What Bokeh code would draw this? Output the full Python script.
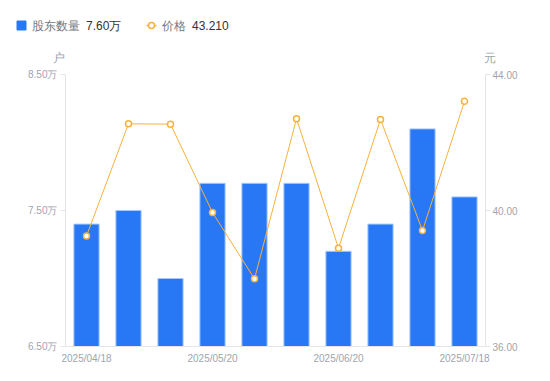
from bokeh.plotting import figure
from bokeh.models import Range1d, LinearAxis, FixedTicker, ColumnDataSource
from bokeh.core.properties import value
from bokeh.embed import file_html
from bokeh.resources import INLINE

# ---- data ----
idx = list(range(10))
holders = [7.40, 7.50, 7.00, 7.70, 7.70, 7.70, 7.20, 7.40, 8.10, 7.60]   # 万户
prices = [39.25, 42.55, 42.54, 39.94, 37.99, 42.70, 38.89, 42.68, 39.41, 43.21]  # 元
x_tick_pos = [0, 3, 6, 9]
x_tick_labels = ["2025/04/18", "2025/05/20", "2025/06/20", "2025/07/18"]
left_ticks = [6.5, 7.5, 8.5]
left_tick_labels = ["6.50万", "7.50万", "8.50万"]
right_ticks = [36, 40, 44]
right_tick_labels = ["36.00", "40.00", "44.00"]
series_names = ["股东数量", "价格"]
units = ["户", "元"]

BLUE = "#2878F5"
BLUE_EDGE = "#A6C8FA"
ORANGE = "#F8B13C"
TICK_COLOR = "#A0A4AE"
AXIS_COLOR = "#E3E5E8"
LEG_COLOR = "#75777D"
FONT = "Liberation Sans"

# ---- legend strip (pixel coordinates) ----
leg = figure(width=550, height=66, output_backend="svg", toolbar_location=None,
             x_range=Range1d(0, 550), y_range=Range1d(66, 0), min_border=0)
leg.axis.visible = False
leg.grid.visible = False
leg.outline_line_color = None
leg.scatter([21], [25], marker="square", size=9, fill_color=BLUE, line_color=BLUE)
leg.line([146, 156], [25, 25], line_color=ORANGE, line_width=1.5)
leg.scatter([151], [25], marker="circle", size=6, fill_color="white", line_color=ORANGE, line_width=1.5)

def ltext(x, y, t, color, align="left"):
    leg.text([x], [y], text=[t], text_font=value(FONT), text_font_size="12px",
             text_color=color, text_baseline="middle", text_align=align)

ltext(31, 25, series_names[0], LEG_COLOR)
ltext(85.5, 25, f"{holders[-1]:.2f}万", "#333333")
ltext(161, 25, series_names[1], LEG_COLOR)
ltext(191.5, 25, f"{prices[-1]:.3f}", "#333333")
ltext(58.5, 57, units[0], TICK_COLOR, "center")
ltext(489.5, 57, units[1], TICK_COLOR, "center")

# ---- main chart ----
p = figure(width=550, height=315, output_backend="svg", toolbar_location=None,
           x_range=Range1d(-0.5, 9.5), y_range=Range1d(6.5, 8.5),
           min_border_left=65, min_border_right=65, min_border_top=8, min_border_bottom=35)
p.extra_y_ranges = {"price": Range1d(36, 44)}
p.grid.visible = False
p.outline_line_color = None

src = ColumnDataSource(dict(x=idx, h=holders, pr=prices))
p.vbar(x="x", top="h", bottom=6.5, width=0.6, source=src,
       fill_color=BLUE, line_color=BLUE_EDGE, line_width=1)
p.line("x", "pr", source=src, y_range_name="price", line_color=ORANGE, line_width=1)
p.scatter("x", "pr", source=src, y_range_name="price", marker="circle", size=6,
          fill_color="white", line_color=ORANGE, line_width=1.5)

def style(ax):
    ax.axis_line_color = AXIS_COLOR
    ax.major_tick_line_color = AXIS_COLOR
    ax.minor_tick_line_color = None
    ax.major_label_text_color = TICK_COLOR
    ax.major_label_text_font = FONT
    ax.major_label_text_font_size = "10px"

xa = p.xaxis[0]
xa.ticker = FixedTicker(ticks=x_tick_pos)
xa.major_label_overrides = {t: l for t, l in zip(x_tick_pos, x_tick_labels)}
style(xa)
xa.major_tick_line_color = None
xa.major_tick_out = 0
xa.major_label_standoff = 6

ya = p.yaxis[0]
ya.ticker = FixedTicker(ticks=left_ticks)
ya.major_label_overrides = {t: l for t, l in zip(left_ticks, left_tick_labels)}
style(ya)
ya.major_tick_out = 5
ya.major_tick_in = 0
ya.major_label_standoff = 3

ra = LinearAxis(y_range_name="price", ticker=FixedTicker(ticks=right_ticks))
ra.major_label_overrides = {t: l for t, l in zip(right_ticks, right_tick_labels)}
style(ra)
ra.major_tick_out = 5
ra.major_tick_in = 0
ra.major_label_standoff = 2
p.add_layout(ra, "right")

open("out.html", "w").write(file_html([leg, p], INLINE))
